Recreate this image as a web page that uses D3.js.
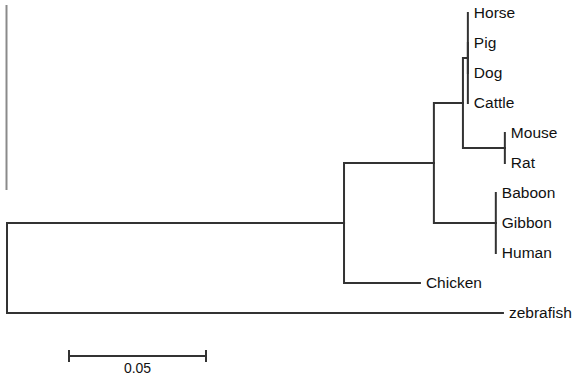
<!DOCTYPE html>
<html>
<head>
<meta charset="utf-8">
<script src="https://cdn.jsdelivr.net/npm/d3@7"></script>
<style>
  body { margin: 0; background: #fff; }
  svg { display: block; }
</style>
</head>
<body>
<svg id="chart" width="574" height="380"></svg>
<script>
// tree nodes, parents and branch lengths (substitutions per site)
var nodeIds=    ["root","A","B","C","D","Horse","Pig","Dog","Cattle","E","Mouse","Rat","P","Baboon","Gibbon","Human","Chicken","zebrafish"];
var parentIds=  ["",    "root","A","B","C","D","D","D","D","C","E","E","B","P","P","P","A","root"];
var branchLens= [0,     0.1230,0.0328,0.0106,0.0018,0,0,0,0,0.0153,0,0,0.0226,0,0,0,0.0277,0.1810];

var scaleLen= 0.05;
var scaleLabel= "0.05";

var svg= d3.select("#chart");

var rows= nodeIds.map(function(d,i) {
    return {id:d, parent:parentIds[i], len:branchLens[i]};
});

var root= d3.stratify()
            .id(function(d) {return d.id})
            .parentId(function(d) {return d.parent || null})(rows);

//vertical spacing from cluster layout (internal node = mean of children)
d3.cluster().size([1,1]).separation(function() {return 1})(root);

root.eachBefore(function(n) {
    n.dist= n.parent ? n.parent.dist + n.data.len : 0;
});

var leaves= root.leaves();
var yScale= d3.scaleLinear()
              .domain([leaves[0].x, leaves[leaves.length-1].x])
              .range([13,313]);

var xScale= d3.scaleLinear()
              .domain([0, scaleLen])
              .range([7, 144]);

//stray grey rule on the left edge
svg.append("line")
   .attr("x1",6.5).attr("x2",6.5)
   .attr("y1",5).attr("y2",190)
   .attr("stroke","#8a8a8a")
   .attr("stroke-width",2);

var lineCol= "#333333";

svg.append("g")
   .selectAll("path")
   .data(root.links())
   .enter().append("path")
   .attr("fill","none")
   .attr("stroke",lineCol)
   .attr("stroke-width",2)
   .attr("stroke-linecap","square")
   .attr("d",function(l) {
       return "M" + xScale(l.source.dist) + "," + yScale(l.source.x) +
              "V" + yScale(l.target.x) + "H" + xScale(l.target.dist);
   });

svg.append("g")
   .selectAll("text")
   .data(leaves)
   .enter().append("text")
   .attr("x",function(d) {return xScale(d.dist) + 6})
   .attr("y",function(d) {return yScale(d.x)})
   .attr("dy","0.35em")
   .attr("font-family","'Liberation Sans', Arial, sans-serif")
   .attr("font-size",15.5)
   .attr("fill","#111")
   .text(function(d) {return d.id});

//scale bar
var sbX= 69, sbY= 356;
var sbW= xScale(scaleLen) - xScale(0);
var sb= svg.append("g").attr("stroke",lineCol).attr("stroke-width",2);
sb.append("line").attr("x1",sbX).attr("x2",sbX+sbW).attr("y1",sbY).attr("y2",sbY);
sb.append("line").attr("x1",sbX).attr("x2",sbX).attr("y1",sbY-6).attr("y2",sbY+6);
sb.append("line").attr("x1",sbX+sbW).attr("x2",sbX+sbW).attr("y1",sbY-6).attr("y2",sbY+6);

svg.append("text")
   .attr("x",sbX + sbW/2)
   .attr("y",373)
   .attr("text-anchor","middle")
   .attr("font-family","'Liberation Sans', Arial, sans-serif")
   .attr("font-size",14)
   .attr("fill","#111")
   .text(scaleLabel);
</script>
</body>
</html>
